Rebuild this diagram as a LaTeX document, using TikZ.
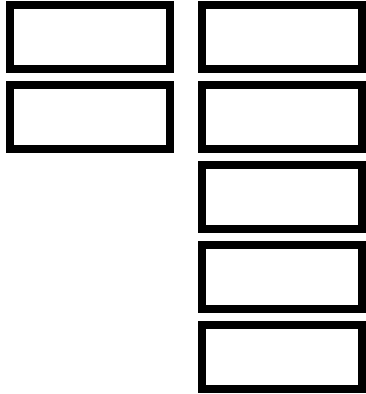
\documentclass[tikz,border=0pt]{standalone}
\begin{document}
\begin{tikzpicture}[x=1pt,y=1pt,
  boxl/.style={draw=black,line width=8pt,miter limit=10,fill=white,inner sep=0pt,outer sep=0pt,minimum width=159.5pt,minimum height=64pt},
  boxr/.style={draw=black,line width=8pt,fill=white,inner sep=0pt,outer sep=0pt,minimum width=160pt,minimum height=64pt}]
\useasboundingbox (0,0) rectangle (366,-394);
\node[boxl] (l1) at (89.75,-37) {};
\node[boxl] (l2) at (89.75,-117) {};
\node[boxr] (r1) at (282,-37) {};
\node[boxr] (r2) at (282,-117) {};
\node[boxr] (r3) at (282,-197) {};
\node[boxr] (r4) at (282,-277) {};
\node[boxr] (r5) at (282,-357) {};
\end{tikzpicture}
\end{document}
